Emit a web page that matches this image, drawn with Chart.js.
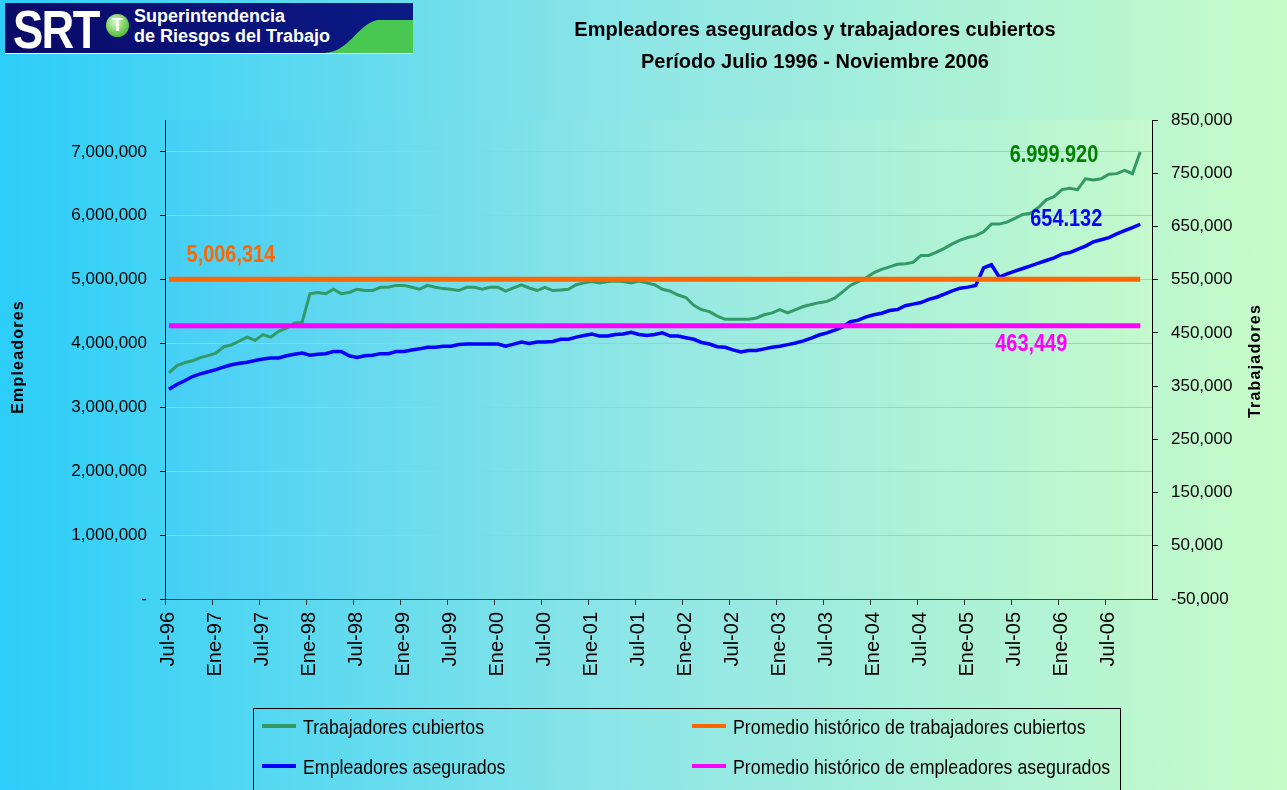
<!DOCTYPE html>
<html>
<head>
<meta charset="utf-8">
<script src="https://cdn.jsdelivr.net/npm/chart.js@4/dist/chart.umd.min.js"></script>
<style>
  html, body { margin: 0; padding: 0; }
  body { width: 1287px; height: 790px; overflow: hidden; position: relative;
         background: linear-gradient(90deg, #2ccdf9 0%, #8fe6e6 50%, #c8fcc8 100%);
         font-family: "Liberation Sans", Arial, sans-serif; }
  #chart { position: absolute; left: 0; top: 0; }
  #logo { position: absolute; left: 5px; top: 3px; width: 408px; height: 50px;
          background: linear-gradient(90deg, #0a0a68, #0b1a86); border-bottom: 1px solid #e8f4ff; overflow: hidden; }
  #logo .srt { position: absolute; left: 8px; top: -5px; color: #fff; font: bold 54px "Liberation Sans", Arial, sans-serif;
               letter-spacing: -2px; transform: scaleX(0.84); transform-origin: left top; }
  #logo .dot { position: absolute; left: 101px; top: 11px; width: 23px; height: 23px; border-radius: 50%;
               background: radial-gradient(circle at 40% 35%, #d8f8c0, #55c040 70%); }
  #logo .dot span { position: absolute; left: 0; width: 23px; top: 1px; text-align: center; color: #fff; font: bold 18px Arial, sans-serif; }
  #logo .name { position: absolute; left: 129px; top: 3px; color: #fff; font: bold 18px "Liberation Sans", Arial, sans-serif; line-height: 20px; }
  #logo svg { position: absolute; left: 0; top: 0; }
  .title { position: absolute; left: 515px; width: 600px; text-align: center; font: bold 20px "Liberation Sans", Arial, sans-serif; color: #000; }
  #legend { position: absolute; left: 253px; top: 708px; width: 866px; height: 100px; border: 1px solid #000; }
  #legend .item { position: absolute; font: 21px "Liberation Sans", Arial, sans-serif; color: #000; white-space: nowrap; }
  #legend .sw { display: inline-block; width: 34px; height: 4px; vertical-align: middle; margin-right: 7px; position: relative; top: -1px; }
  #legend .tx { display: inline-block; transform: scaleX(0.846); transform-origin: left center; vertical-align: middle; }
</style>
</head>
<body>
<canvas id="chart" width="1287" height="790"></canvas>

<div id="logo">
  <svg width="408" height="50"><path d="M320 50 C 345 48, 352 22, 372 17 L 408 17 L 408 50 Z" fill="#48c850"/></svg>
  <div class="srt">SRT</div>
  <div class="dot"><span>T</span></div>
  <div class="name">Superintendencia<br>de Riesgos del Trabajo</div>
</div>

<div class="title" style="top:18px">Empleadores asegurados y trabajadores cubiertos</div>
<div class="title" style="top:50px">Período Julio 1996 - Noviembre 2006</div>

<div id="legend">
  <div class="item" style="left:8px; top:5px"><span class="sw" style="background:#339966"></span><span class="tx">Trabajadores cubiertos</span></div>
  <div class="item" style="left:438px; top:5px"><span class="sw" style="background:#ff6600"></span><span class="tx">Promedio histórico de trabajadores cubiertos</span></div>
  <div class="item" style="left:8px; top:45px"><span class="sw" style="background:#0000ff"></span><span class="tx">Empleadores asegurados</span></div>
  <div class="item" style="left:438px; top:45px"><span class="sw" style="background:#ff00ff"></span><span class="tx">Promedio histórico de empleadores asegurados</span></div>
</div>

<script>
// months Jul-96 .. Dic-06 (last category has no data)
const MESES = ["Ene", "Feb", "Mar", "Abr", "May", "Jun", "Jul", "Ago", "Sep", "Oct", "Nov", "Dic"];
const categorias = [];
for (let k = 0; k < 126; k++) {
  const m = (6 + k) % 12;
  const y = 1996 + Math.floor((6 + k) / 12);
  categorias.push(MESES[m] + "-" + String(y).slice(2));
}

// Trabajadores cubiertos (left axis)
const trabajadores = [
  3540000, 3650000, 3700000, 3730000, 3780000, 3810000, 3850000, 3950000, 3980000, 4040000,
  4100000, 4050000, 4140000, 4100000, 4190000, 4240000, 4320000, 4330000, 4780000, 4800000,
  4780000, 4850000, 4780000, 4800000, 4850000, 4830000, 4830000, 4880000, 4880000, 4910000,
  4910000, 4880000, 4850000, 4910000, 4880000, 4860000, 4850000, 4830000, 4880000, 4880000,
  4850000, 4880000, 4880000, 4820000, 4870000, 4920000, 4870000, 4830000, 4880000, 4830000,
  4840000, 4850000, 4920000, 4950000, 4970000, 4950000, 4970000, 4980000, 4970000, 4950000,
  4980000, 4950000, 4920000, 4850000, 4820000, 4760000, 4720000, 4600000, 4530000, 4500000,
  4430000, 4380000, 4380000, 4380000, 4380000, 4400000, 4450000, 4480000, 4530000, 4480000,
  4530000, 4580000, 4610000, 4640000, 4660000, 4710000, 4810000, 4910000, 4970000, 5030000,
  5110000, 5160000, 5200000, 5240000, 5250000, 5270000, 5380000, 5380000, 5430000, 5490000,
  5560000, 5620000, 5660000, 5690000, 5750000, 5870000, 5870000, 5900000, 5960000, 6020000,
  6040000, 6130000, 6250000, 6300000, 6410000, 6430000, 6410000, 6580000, 6560000, 6580000,
  6650000, 6660000, 6710000, 6660000, 6999920, null
];

// Empleadores asegurados (right axis)
const empleadores = [
  344000, 353000, 360000, 368000, 373000, 377000, 381000, 386000, 390000, 393000,
  395000, 398000, 401000, 403000, 403000, 407000, 410000, 412000, 408000, 410000,
  411000, 415000, 415000, 407000, 404000, 407000, 408000, 411000, 411000, 415000,
  415000, 418000, 420000, 423000, 423000, 425000, 425000, 428000, 429000, 429000,
  429000, 429000, 429000, 425000, 429000, 433000, 430000, 433000, 433000, 434000,
  438000, 438000, 442000, 445000, 448000, 444000, 444000, 447000, 448000, 451000,
  447000, 445000, 447000, 450000, 444000, 444000, 441000, 438000, 432000, 429000,
  424000, 423000, 418000, 414000, 417000, 417000, 420000, 423000, 425000, 428000,
  431000, 435000, 440000, 446000, 450000, 455000, 461000, 471000, 474000, 480000,
  484000, 487000, 492000, 494000, 501000, 504000, 507000, 513000, 517000, 523000,
  529000, 534000, 536000, 539000, 572000, 578000, 555000, 561000, 566000, 571000,
  576000, 581000, 586000, 591000, 598000, 601000, 607000, 613000, 621000, 625000,
  629000, 636000, 642000, 648000, 654132, null
];

const PROM_TRAB = 5006314;
const PROM_EMP = 463449;
const promTrab = trabajadores.map(v => v === null ? null : PROM_TRAB);
const promEmp = empleadores.map(v => v === null ? null : PROM_EMP);

const yTicksLeft = [0, 1000000, 2000000, 3000000, 4000000, 5000000, 6000000, 7000000];

const plotBg = {
  id: "plotBg",
  beforeDraw(chart) {
    const { ctx, chartArea: a } = chart;
    const g = ctx.createLinearGradient(a.left, 0, a.right, 0);
    g.addColorStop(0, "#45cff6");
    g.addColorStop(0.5, "#94e8e4");
    g.addColorStop(1, "#c4facc");
    ctx.save();
    ctx.fillStyle = g;
    ctx.fillRect(a.left, a.top, a.right - a.left, a.bottom - a.top);
    ctx.restore();
  }
};

// condensed bold label: squeeze horizontally
function narrowText(ctx, txt, x, y, align, color) {
  const sx = 0.83;
  ctx.save();
  ctx.font = 'bold 24px "Liberation Sans", Arial, sans-serif';
  ctx.fillStyle = color;
  ctx.textAlign = align;
  ctx.textBaseline = "middle";
  ctx.translate(x, y);
  ctx.scale(sx, 1);
  ctx.fillText(txt, 0, 0);
  ctx.restore();
}

const extras = {
  id: "extras",
  afterDraw(chart) {
    const { ctx } = chart;
    const x = chart.scales.x, y = chart.scales.y, y2 = chart.scales.y2;
    const last = 124;
    ctx.save();
    // axis titles
    ctx.fillStyle = "#000";
    ctx.font = 'bold 16px "Liberation Sans", Arial, sans-serif';
    ctx.letterSpacing = "1.2px";
    ctx.textAlign = "center";
    ctx.textBaseline = "middle";
    ctx.save();
    ctx.translate(19, 357);
    ctx.rotate(-Math.PI / 2);
    ctx.fillText("Empleadores", 0, 0);
    ctx.restore();
    ctx.save();
    ctx.translate(1256, 361);
    ctx.rotate(-Math.PI / 2);
    ctx.fillText("Trabajadores", 0, 0);
    ctx.restore();
    ctx.letterSpacing = "0px";
    ctx.restore();

    // value labels
    narrowText(ctx, "5,006,314", x.getPixelForValue(2) + 2, y.getPixelForValue(PROM_TRAB) - 24, "left", "#ff6600");
    narrowText(ctx, "463,449", x.getPixelForValue(last) - 73, y2.getPixelForValue(PROM_EMP) + 19, "right", "#ff00ff");
    narrowText(ctx, "6.999.920", x.getPixelForValue(last) - 42, y.getPixelForValue(trabajadores[last]) + 3, "right", "#008000");
    narrowText(ctx, "654.132", x.getPixelForValue(last) - 38, y2.getPixelForValue(empleadores[last]) - 5, "right", "#0000ff");
  }
};

new Chart(document.getElementById("chart"), {
  type: "line",
  data: {
    labels: categorias,
    datasets: [
      { label: "Promedio histórico de trabajadores cubiertos", data: promTrab, yAxisID: "y",
        borderColor: "#ff6600", borderWidth: 5, pointRadius: 0, order: 0 },
      { label: "Promedio histórico de empleadores asegurados", data: promEmp, yAxisID: "y2",
        borderColor: "#ff00ff", borderWidth: 5, pointRadius: 0, order: 0 },
      { label: "Trabajadores cubiertos", data: trabajadores, yAxisID: "y",
        borderColor: "#339966", borderWidth: 3, pointRadius: 0, tension: 0, order: 1 },
      { label: "Empleadores asegurados", data: empleadores, yAxisID: "y2",
        borderColor: "#0000ff", borderWidth: 3.5, pointRadius: 0, tension: 0, order: 1 }
    ]
  },
  options: {
    responsive: false,
    animation: false,
    devicePixelRatio: 1,
    layout: { padding: { top: 120, left: 0, right: 0, bottom: 0 } },
    plugins: { legend: { display: false }, tooltip: { enabled: false } },
    scales: {
      x: {
        offset: true,
        grid: {
          offset: true,
          drawOnChartArea: false,
          tickLength: 6,
          color: c => (c.index % 6 === 0 ? "#333" : "rgba(0,0,0,0)")
        },
        border: { color: "#404040", width: 1 },
        ticks: {
          autoSkip: false,
          maxRotation: 90,
          minRotation: 90,
          padding: 7,
          color: "#000",
          font: { family: '"Liberation Sans", Arial, sans-serif', size: 20 },
          callback: function (v, i) { return i % 6 === 0 ? this.getLabelForValue(v) : ""; }
        },
        afterFit: s => { s.height = 191; }
      },
      y: {
        position: "left",
        min: 0,
        max: 7500000,
        afterBuildTicks: s => { s.ticks = yTicksLeft.map(v => ({ value: v })); },
        grid: { color: "#c0c0c0", lineWidth: 1, tickLength: 5, tickColor: "#000" },
        border: { color: "#000", width: 1 },
        ticks: {
          padding: 13,
          color: "#000",
          font: { family: '"Liberation Sans", Arial, sans-serif', size: 17 },
          callback: v => (v === 0 ? "-" : v.toLocaleString("en-US"))
        },
        afterFit: s => { s.width = 165; }
      },
      y2: {
        position: "right",
        min: -50000,
        max: 850000,
        ticks: {
          stepSize: 100000,
          padding: 13,
          color: "#000",
          font: { family: '"Liberation Sans", Arial, sans-serif', size: 17 },
          callback: v => v.toLocaleString("en-US")
        },
        grid: { drawOnChartArea: false, tickLength: 6, tickColor: "#000" },
        border: { color: "#000", width: 1 },
        afterFit: s => { s.width = 135; }
      }
    }
  },
  plugins: [plotBg, extras]
});
</script>
</body>
</html>
